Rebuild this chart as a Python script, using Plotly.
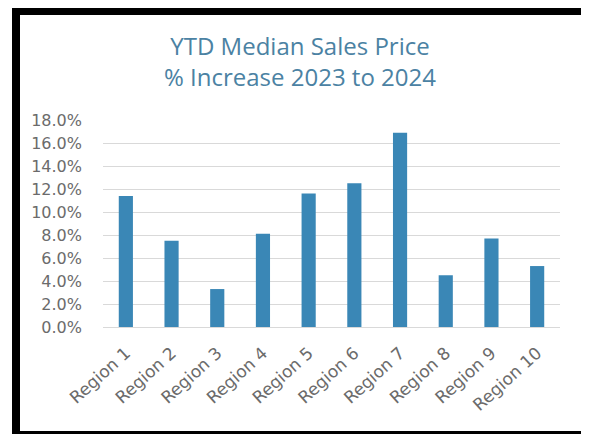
import plotly.graph_objects as go

categories = ["Region 1", "Region 2", "Region 3", "Region 4", "Region 5",
              "Region 6", "Region 7", "Region 8", "Region 9", "Region 10"]
pct_increase = [0.114, 0.075, 0.033, 0.081, 0.116, 0.125, 0.169, 0.045, 0.077, 0.053]
y_ticks = [0.0, 0.02, 0.04, 0.06, 0.08, 0.10, 0.12, 0.14, 0.16, 0.18]

# page has an 8px body margin, so the figure is drawn 8px smaller and shifted
OFF = 8
W, H = 589 - OFF, 434 - OFF
L, R, T, B = 103 - OFF, 29, 120 - OFF, 107
pw, ph = W - L - R, H - T - B

def px_x(p):  # page pixel -> paper
    return (p - OFF - L) / pw

def px_y(p):
    return (H - B - (p - OFF)) / ph

fig = go.Figure(go.Bar(
    x=categories, y=pct_increase,
    marker=dict(color="#3a87b6", line=dict(width=0)),
))

fig.update_layout(
    width=W, height=H,
    margin=dict(l=L, r=R, t=T, b=B, autoexpand=False),
    paper_bgcolor="white", plot_bgcolor="white",
    bargap=0.69,
    showlegend=False,
    title=dict(
        text="YTD Median Sales Price<br>% Increase 2023 to 2024",
        x=(300 - OFF) / W, xanchor="center", xref="container",
        y=1 - (55 - OFF) / H, yanchor="middle", yref="container",
        font=dict(family="Open Sans, sans-serif", size=24, color="#4b82a3"),
    ),
    font=dict(family="DejaVu Sans, sans-serif", color="#6b6b6b"),
    shapes=[
        dict(type="rect", xref="paper", yref="paper",
             x0=px_x(12), x1=px_x(20), y0=px_y(434), y1=px_y(7),
             line=dict(width=0), fillcolor="black", layer="above"),
        dict(type="rect", xref="paper", yref="paper",
             x0=px_x(12), x1=px_x(589), y0=px_y(15), y1=px_y(7),
             line=dict(width=0), fillcolor="black", layer="above"),
        dict(type="rect", xref="paper", yref="paper",
             x0=px_x(582), x1=px_x(589), y0=px_y(434), y1=px_y(7),
             line=dict(width=0), fillcolor="black", layer="above"),
        dict(type="rect", xref="paper", yref="paper",
             x0=px_x(12), x1=px_x(589), y0=px_y(434), y1=px_y(431),
             line=dict(width=0), fillcolor="black", layer="above"),
    ],
)

fig.update_yaxes(
    range=[0, 0.18], tickvals=y_ticks, tickformat=".1%",
    showgrid=True, gridcolor="#d9d9d9", gridwidth=1,
    zeroline=True, zerolinecolor="#d9d9d9", zerolinewidth=1,
    showline=False, ticks="", ticklabelstandoff=20, automargin=False,
    tickfont=dict(size=16, color="#6b6b6b"),
)
fig.update_xaxes(
    tickangle=-42, showgrid=False, showline=False, ticks="", automargin=False,
    ticklabelstandoff=12,
    tickfont=dict(size=17, color="#6b6b6b"),
)

fig.write_html("out.html")
